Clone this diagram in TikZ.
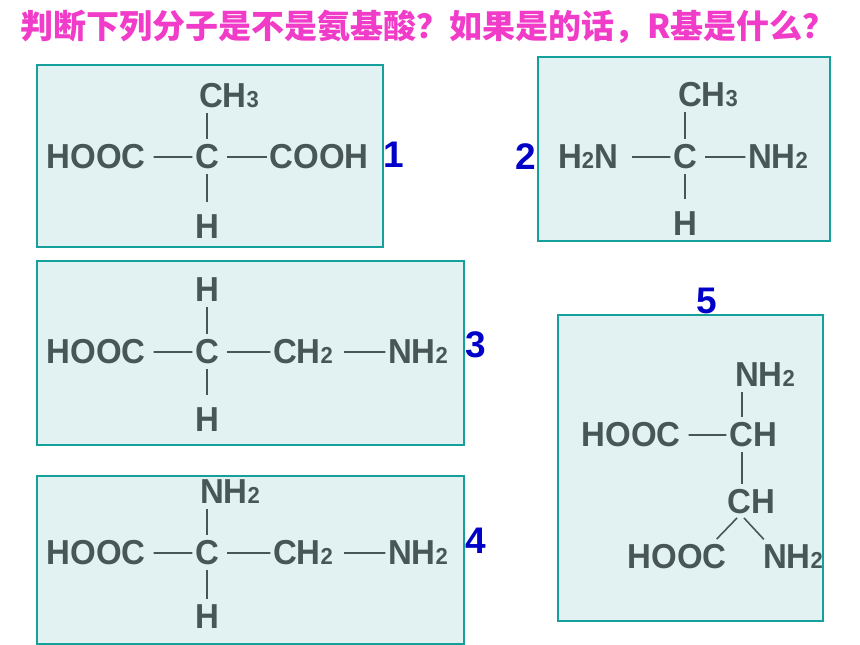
\documentclass[tikz,border=0pt]{standalone}
\usepackage{fontspec}
\setmainfont{Liberation Sans}
\newfontfamily\cjk{Noto Sans CJK SC}
\usetikzlibrary{calc}

\definecolor{ink}{RGB}{72,86,86}
\definecolor{boxline}{RGB}{22,160,155}
\definecolor{boxfill}{RGB}{226,241,242}
\definecolor{numblue}{RGB}{0,0,200}
\definecolor{titlepink}{RGB}{240,60,200}

\newcommand\sub[1]{{\fontsize{22}{22}\selectfont #1}}

\tikzset{
  box/.style={draw=boxline, fill=boxfill, line width=1.5pt},
  chem/.style={font=\fontsize{33}{33}\selectfont\bfseries, text=ink, inner sep=0pt, yscale=1.05, transform shape},
  num/.style={font=\fontsize{37}{37}\selectfont\bfseries, text=numblue, inner sep=0pt},
  link/.style={draw=ink, line width=1.6pt},
  bond/.style={link, shorten <=8pt, shorten >=2.5pt},
  vbond/.style={link, shorten <=5pt, shorten >=6pt},
  tailbond/.style={link, shorten <=5pt, shorten >=13pt}
}

\begin{document}
\begin{tikzpicture}[x=1pt,y=-1pt]
\useasboundingbox (0,0) rectangle (860,645);
\node[font=\cjk\bfseries\fontsize{33}{33}\selectfont, text=titlepink, inner sep=0pt] (title) at (428,27)
  {判断下列分子是不是氨基酸？如果是的话，R基是什么？};

% boxes
\draw[box] (37,65) rectangle (383,247);
\draw[box] (538,57) rectangle (830,241);
\draw[box] (37,261) rectangle (464,445);
\draw[box] (37,476) rectangle (464,644);
\draw[box] (558,315) rectangle (823,621);

\foreach \n/\x/\y in {1/394/155, 2/526/157, 3/476/345, 4/476/541, 5/707/301}
  \node[num] (n\n) at (\x,\y) {\n};

% molecule 1
\node[chem] (c1) at (207,157) {C};
\node[chem] (ch3a) at (229,96) {CH\sub3};
\node[chem] (hooc1) at (96,157) {HOOC};
\node[chem] (cooh1) at (319,157) {COOH};
\node[chem] (h1) at (207,227) {H};
\draw[bond] (hooc1) -- (c1);
\draw[bond] (c1) -- (cooh1);
\draw[vbond] (c1 |- ch3a.south) -- (c1.north);
\draw[tailbond] (c1.south) -- (h1.north);

% molecule 2
\node[chem] (c2) at (685,157) {C};
\node[chem] (ch3b) at (708,95) {CH\sub3};
\node[chem] (h2n2) at (588,157) {H\sub2N};
\node[chem] (nh2b) at (778,157) {NH\sub2};
\node[chem] (h2) at (685,224) {H};
\draw[bond, shorten <=14pt] (h2n2) -- (c2);
\draw[bond] (c2) -- (nh2b);
\draw[vbond] (c2 |- ch3b.south) -- (c2.north);
\draw[tailbond] (c2.south) -- (h2.north);

% molecules 3 and 4
\foreach \n/\y in {3/352, 4/553} {
  \node[chem] (c\n) at (207,\y) {C};
  \node[chem] (hooc\n) at (96,\y) {HOOC};
  \node[chem] (ch2\n) at (303,\y) {CH\sub2};
  \node[chem] (nh2\n) at (418,\y) {NH\sub2};
  \draw[bond] (hooc\n) -- (c\n);
  \draw[bond] (c\n) -- (ch2\n);
  \draw[bond, shorten <=11pt] (ch2\n) -- (nh2\n);
}
\node[chem] (htop3) at (207,290) {H};
\node[chem] (hbot3) at (207,420) {H};
\draw[vbond] (htop3) -- (c3);
\draw[tailbond] (c3) -- (hbot3);
\node[chem] (nh2top4) at (230,492) {NH\sub2};
\node[chem] (hbot4) at (207,617) {H};
\draw[vbond] (c4 |- nh2top4.south) -- (c4.north);
\draw[vbond] (c4) -- (hbot4);

% molecule 5
\coordinate (spine) at (742,0);
\node[chem] (nh2e) at (765,375) {NH\sub2};
\node[chem] (hooce) at (631,435) {HOOC};
\node[chem] (che) at (753,435) {CH};
\node[chem] (chf) at (751,502) {CH};
\node[chem] (hoocf) at (677,557) {HOOC};
\node[chem] (nh2f) at (793,557) {NH\sub2};
\draw[bond] (hooce) -- (che);
\draw[vbond] (spine |- nh2e.south) -- (spine |- che.north);
\draw[vbond] (spine |- che.south) -- (spine |- chf.north);
\draw[link] ($(spine |- chf.south)+(-5,3.5)$) -- ($(hoocf.north east)+(-10,-5.5)$);
\draw[link] ($(spine |- chf.south)+(2,3.5)$) -- ($(nh2f.north west)+(1,-5.5)$);
\end{tikzpicture}
\end{document}
